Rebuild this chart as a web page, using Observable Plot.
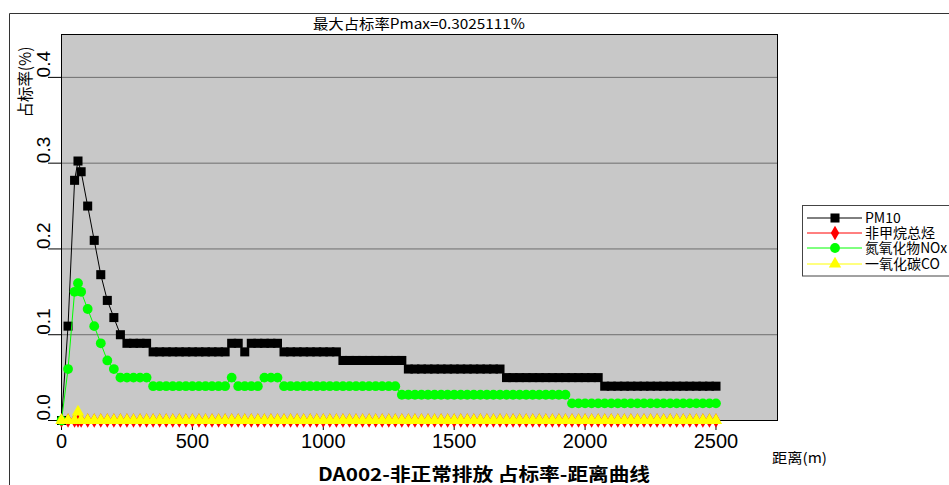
<!DOCTYPE html>
<html><head><meta charset="utf-8">
<script src="https://cdn.jsdelivr.net/npm/d3@7"></script>
<script src="https://cdn.jsdelivr.net/npm/@observablehq/plot@0.6"></script>
<style>body{margin:0;background:#fff}#chart{position:relative;width:949px;height:485px;overflow:hidden}</style>
</head><body><div id="chart"></div>
<script>
const distances = [
  0,25,50,63,75,100,125,150,175,200,
  225,250,275,300,325,350,375,400,425,450,
  475,500,525,550,575,600,625,650,675,700,
  725,750,775,800,825,850,875,900,925,950,
  975,1000,1025,1050,1075,1100,1125,1150,1175,1200,
  1225,1250,1275,1300,1325,1350,1375,1400,1425,1450,
  1475,1500,1525,1550,1575,1600,1625,1650,1675,1700,
  1725,1750,1775,1800,1825,1850,1875,1900,1925,1950,
  1975,2000,2025,2050,2075,2100,2125,2150,2175,2200,
  2225,2250,2275,2300,2325,2350,2375,2400,2425,2450,
  2475,2500];
const pm10 = [
  0,0.11,0.28,0.3025,0.29,0.25,0.21,0.17,0.14,0.12,
  0.10,0.09,0.09,0.09,0.09,0.08,0.08,0.08,0.08,0.08,
  0.08,0.08,0.08,0.08,0.08,0.08,0.08,0.09,0.09,0.08,
  0.09,0.09,0.09,0.09,0.09,0.08,0.08,0.08,0.08,0.08,
  0.08,0.08,0.08,0.08,0.07,0.07,0.07,0.07,0.07,0.07,
  0.07,0.07,0.07,0.07,0.06,0.06,0.06,0.06,0.06,0.06,
  0.06,0.06,0.06,0.06,0.06,0.06,0.06,0.06,0.06,0.05,
  0.05,0.05,0.05,0.05,0.05,0.05,0.05,0.05,0.05,0.05,
  0.05,0.05,0.05,0.05,0.04,0.04,0.04,0.04,0.04,0.04,
  0.04,0.04,0.04,0.04,0.04,0.04,0.04,0.04,0.04,0.04,
  0.04,0.04];
const nmhc = [
  0,0,0,0,0,0,0,0,0,0,
  0,0,0,0,0,0,0,0,0,0,
  0,0,0,0,0,0,0,0,0,0,
  0,0,0,0,0,0,0,0,0,0,
  0,0,0,0,0,0,0,0,0,0,
  0,0,0,0,0,0,0,0,0,0,
  0,0,0,0,0,0,0,0,0,0,
  0,0,0,0,0,0,0,0,0,0,
  0,0,0,0,0,0,0,0,0,0,
  0,0,0,0,0,0,0,0,0,0,
  0,0];
const nox = [
  0,0.06,0.15,0.16,0.15,0.13,0.11,0.09,0.07,0.06,
  0.05,0.05,0.05,0.05,0.05,0.04,0.04,0.04,0.04,0.04,
  0.04,0.04,0.04,0.04,0.04,0.04,0.04,0.05,0.04,0.04,
  0.04,0.04,0.05,0.05,0.05,0.04,0.04,0.04,0.04,0.04,
  0.04,0.04,0.04,0.04,0.04,0.04,0.04,0.04,0.04,0.04,
  0.04,0.04,0.04,0.03,0.03,0.03,0.03,0.03,0.03,0.03,
  0.03,0.03,0.03,0.03,0.03,0.03,0.03,0.03,0.03,0.03,
  0.03,0.03,0.03,0.03,0.03,0.03,0.03,0.03,0.03,0.02,
  0.02,0.02,0.02,0.02,0.02,0.02,0.02,0.02,0.02,0.02,
  0.02,0.02,0.02,0.02,0.02,0.02,0.02,0.02,0.02,0.02,
  0.02,0.02];
const co = [
  0,0,0,0.01,0,0,0,0,0,0,
  0,0,0,0,0,0,0,0,0,0,
  0,0,0,0,0,0,0,0,0,0,
  0,0,0,0,0,0,0,0,0,0,
  0,0,0,0,0,0,0,0,0,0,
  0,0,0,0,0,0,0,0,0,0,
  0,0,0,0,0,0,0,0,0,0,
  0,0,0,0,0,0,0,0,0,0,
  0,0,0,0,0,0,0,0,0,0,
  0,0,0,0,0,0,0,0,0,0,
  0,0];
const seriesNames = ["PM10","非甲烷总烃","氮氧化物NOx","一氧化碳CO"];
const seriesColors = ["#000000","#ff0000","#00ff00","#ffff00"];
const seriesSymbols = ["square","diamond","circle","triangle"];
const xTicks = [0,500,1000,1500,2000,2500];
const yTicks = [0,0.1,0.2,0.3,0.4];
const titleText = "最大占标率Pmax=0.3025111%";
const captionText = "DA002-非正常排放 占标率-距离曲线";
const xLabel = "距离(m)";
const yLabel = "占标率(%)";

const seriesValues = [pm10, nmhc, nox, co];
const symbolR = {square: 5.1, diamond: 4.4, circle: 4.9, triangle: 4.6};

const seriesMarks = seriesValues.flatMap((vals, k) => {
  const rows = distances.map((d, i) => ({d, v: vals[i]}));
  return [
    Plot.line(rows, {x: "d", y: "v", stroke: seriesColors[k], strokeWidth: 1}),
    Plot.dot(rows, {x: "d", y: "v", symbol: () => seriesSymbols[k], r: symbolR[seriesSymbols[k]], fill: seriesColors[k], stroke: "none"})
  ];
});

const chart = Plot.plot({
  width: 949, height: 485,
  marginLeft: 61, marginRight: 172, marginTop: 34, marginBottom: 65,
  style: {fontFamily: "'Liberation Sans', Arial, sans-serif", fontSize: "12px", background: "#fff", color: "#000", overflow: "visible"},
  x: {domain: [0, 2735]},
  y: {domain: [0, 0.45]},
  symbol: {type: "identity"},
  marks: [
    Plot.frame({fill: "#c8c8c8", stroke: "none"}),
    Plot.gridY(yTicks.slice(1), {stroke: "#6e6e6e", strokeOpacity: 1}),
    Plot.frame({stroke: "#000"}),
    Plot.axisX(xTicks, {tickSize: 10, tickPadding: 3, fontSize: 20, label: null, tickFormat: d => String(d)}),
    Plot.axisY(yTicks, {tickSize: 13, label: null, tickFormat: () => ""}),
    Plot.text(yTicks, {y: d => d, frameAnchor: "left", dx: -18, rotate: -90, text: d => d.toFixed(1), fontSize: 19}),
    ...seriesMarks
  ]
});
document.getElementById("chart").appendChild(chart);

const svg = d3.select(chart);
const cjk = "'Noto Sans CJK SC', 'Liberation Sans', sans-serif";
svg.append("path").attr("d", "M9.5,485V13.5H949").attr("fill", "none").attr("stroke", "#333");
svg.append("text").text(titleText).attr("x", 419).attr("y", 29)
  .attr("text-anchor", "middle").attr("font-family", cjk).attr("font-size", 14)
  .attr("textLength", 212).attr("lengthAdjust", "spacingAndGlyphs");
svg.append("text").text(captionText).attr("x", 484).attr("y", 481)
  .attr("text-anchor", "middle").attr("font-family", cjk).attr("font-size", 18).attr("font-weight", "bold")
  .attr("textLength", 332).attr("lengthAdjust", "spacingAndGlyphs");
svg.append("text").text(xLabel).attr("x", 772).attr("y", 463)
  .attr("text-anchor", "start").attr("font-family", cjk).attr("font-size", 14)
  .attr("textLength", 55).attr("lengthAdjust", "spacingAndGlyphs");
svg.append("text").text(yLabel).attr("transform", "translate(24,82) rotate(-90)")
  .attr("text-anchor", "middle").attr("dominant-baseline", "central")
  .attr("font-family", cjk).attr("font-size", 16)
  .attr("textLength", 71).attr("lengthAdjust", "spacingAndGlyphs");

// legend
const lg = svg.append("g");
lg.append("rect").attr("x", 802.5).attr("y", 205.5).attr("width", 200).attr("height", 70.5)
  .attr("fill", "#fff").attr("stroke", "#444");
const rowY = [218, 233, 248, 264];
const d3Sym = {square: d3.symbolSquare, diamond: d3.symbolDiamond, circle: d3.symbolCircle, triangle: d3.symbolTriangle};
seriesNames.forEach((name, k) => {
  const y = rowY[k];
  lg.append("line").attr("x1", 807).attr("x2", 862).attr("y1", y).attr("y2", y).attr("stroke", seriesColors[k]);
  const s = seriesSymbols[k];
  lg.append("path").attr("d", d3.symbol(d3Sym[s], Math.PI * symbolR[s] * symbolR[s])())
    .attr("transform", `translate(835,${y})`).attr("fill", seriesColors[k]);
  const t = lg.append("text").text(name).attr("x", 865).attr("y", y + 5)
    .attr("text-anchor", "start").attr("font-family", cjk).attr("font-size", 14);
  const w = t.node().getComputedTextLength();
  if (865 + w > 947) t.attr("textLength", 947 - 865).attr("lengthAdjust", "spacingAndGlyphs");
});
</script>
</body></html>
